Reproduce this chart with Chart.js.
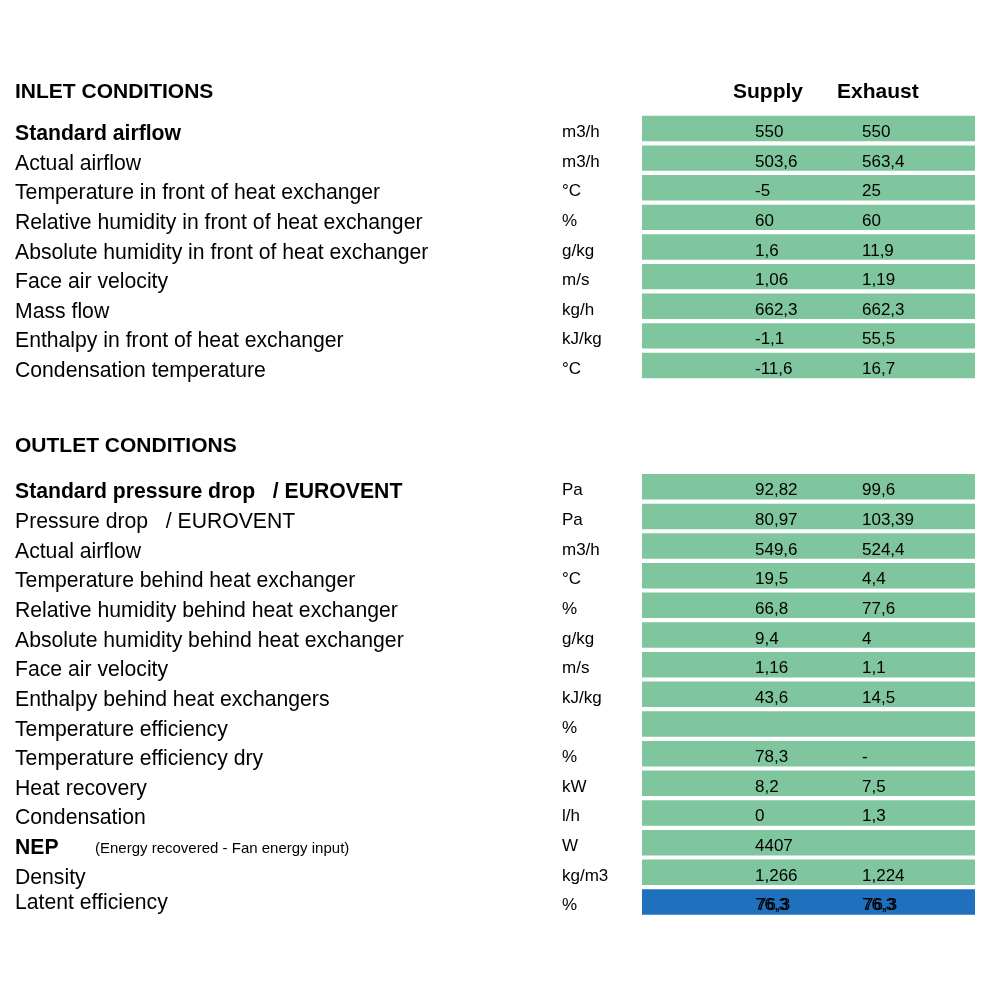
<!DOCTYPE html>
<html><head><meta charset="utf-8">
<script src="https://cdn.jsdelivr.net/npm/chart.js@4.4.0/dist/chart.umd.min.js"></script>
<style>
html,body{margin:0;padding:0;background:#fff;width:1000px;height:1000px;overflow:hidden}
canvas{position:absolute;left:0}
#inlet{top:0}
#outlet{top:400px}
</style></head><body>
<canvas id="inlet" width="1000" height="400"></canvas>
<canvas id="outlet" width="1000" height="600"></canvas>
<script>
// ---- data ----
const columnHeaders = ["Supply", "Exhaust"];
const inletTitle = "INLET CONDITIONS";
const outletTitle = "OUTLET CONDITIONS";

const inletLabels = [
  "Standard airflow",
  "Actual airflow",
  "Temperature in front of heat exchanger",
  "Relative humidity in front of heat exchanger",
  "Absolute humidity in front of heat exchanger",
  "Face air velocity",
  "Mass flow",
  "Enthalpy in front of heat exchanger",
  "Condensation temperature"
];
const inletUnits = ["m3/h", "m3/h", "°C", "%", "g/kg", "m/s", "kg/h", "kJ/kg", "°C"];
const inletSupply = ["550", "503,6", "-5", "60", "1,6", "1,06", "662,3", "-1,1", "-11,6"];
const inletExhaust = ["550", "563,4", "25", "60", "11,9", "1,19", "662,3", "55,5", "16,7"];
const inletBold = [0];

const outletLabels = [
  "Standard pressure drop   / EUROVENT",
  "Pressure drop   / EUROVENT",
  "Actual airflow",
  "Temperature behind heat exchanger",
  "Relative humidity behind heat exchanger",
  "Absolute humidity behind heat exchanger",
  "Face air velocity",
  "Enthalpy behind heat exchangers",
  "Temperature efficiency",
  "Temperature efficiency dry",
  "Heat recovery",
  "Condensation",
  "NEP",
  "Density",
  "Latent efficiency"
];
const outletUnits = ["Pa", "Pa", "m3/h", "°C", "%", "g/kg", "m/s", "kJ/kg", "%", "%", "kW", "l/h", "W", "kg/m3", "%"];
const outletSupply = ["92,82", "80,97", "549,6", "19,5", "66,8", "9,4", "1,16", "43,6", "", "78,3", "8,2", "0", "4407", "1,266", "76,3"];
const outletExhaust = ["99,6", "103,39", "524,4", "4,4", "77,6", "4", "1,1", "14,5", "", "-", "7,5", "1,3", "", "1,224", "76,3"];
const outletBold = [0, 12];
const outletNotes = {12: "(Energy recovered - Fan energy input)"};
const outletHighlight = [14];

// ---- drawing ----
const FONT = "'Liberation Sans', Arial, sans-serif";
const GREEN = "rgb(127,198,158)";
const BLUE = "rgb(31,113,190)";

function tablePlugin(cfg) {
  return {
    id: 'tableText',
    afterDatasetsDraw(chart) {
      const ctx = chart.ctx;
      const ys = chart.scales.y;
      ctx.save();
      ctx.fillStyle = '#000';
      ctx.textAlign = 'left';
      ctx.textBaseline = 'alphabetic';
      if (cfg.title) {
        ctx.font = "bold 21px " + FONT;
        ctx.fillText(cfg.title, 15, cfg.titleY);
      }
      if (cfg.headers) {
        ctx.font = "bold 21px " + FONT;
        ctx.fillText(cfg.headers[0], 733, cfg.titleY);
        ctx.fillText(cfg.headers[1], 837, cfg.titleY);
      }
      cfg.labels.forEach((lab, i) => {
        const y = ys.getPixelForValue(i);
        const hi = cfg.highlight && cfg.highlight.includes(i);
        ctx.font = (cfg.bold.includes(i) ? "bold " : "") + "21.2px " + FONT;
        ctx.fillText(lab, 15, y + (hi ? 7 : 11.5));
        if (cfg.notes && cfg.notes[i]) {
          ctx.font = "15px " + FONT;
          ctx.fillText(cfg.notes[i], 95, y + 10.5);
        }
        ctx.font = "17px " + FONT;
        ctx.fillText(cfg.units[i], 562, y + 8.5);
        [[cfg.supply[i], 755], [cfg.exhaust[i], 862]].forEach(([v, x]) => {
          if (!v) return;
          ctx.fillText(v, x, y + 8.5);
          if (hi) ctx.fillText(v, x + 2, y + 8.5);
        });
      });
      ctx.restore();
    }
  };
}

function makeTable(id, cfg, padTop, padBottom) {
  return new Chart(document.getElementById(id), {
    type: 'bar',
    data: {
      labels: cfg.labels,
      datasets: [{
        data: cfg.labels.map(() => 1),
        backgroundColor: cfg.labels.map((_, i) => (cfg.highlight && cfg.highlight.includes(i)) ? BLUE : GREEN),
        borderWidth: 0,
        barPercentage: 0.86,
        categoryPercentage: 1
      }]
    },
    options: {
      indexAxis: 'y',
      responsive: false,
      animation: false,
      devicePixelRatio: 1,
      layout: { padding: { left: 642, right: 25, top: padTop, bottom: padBottom } },
      scales: {
        x: { display: false, min: 0, max: 1 },
        y: { display: false }
      },
      plugins: { legend: { display: false }, tooltip: { enabled: false }, title: { display: false } }
    },
    plugins: [tablePlugin(cfg)]
  });
}

makeTable('inlet', {
  title: inletTitle, titleY: 97.7, headers: columnHeaders,
  labels: inletLabels, units: inletUnits, supply: inletSupply, exhaust: inletExhaust,
  bold: inletBold
}, 113.7, 19.7);

makeTable('outlet', {
  title: outletTitle, titleY: 51.7,
  labels: outletLabels, units: outletUnits, supply: outletSupply, exhaust: outletExhaust,
  bold: outletBold, notes: outletNotes, highlight: outletHighlight
}, 71.9, 83.2);
</script>
</body></html>
